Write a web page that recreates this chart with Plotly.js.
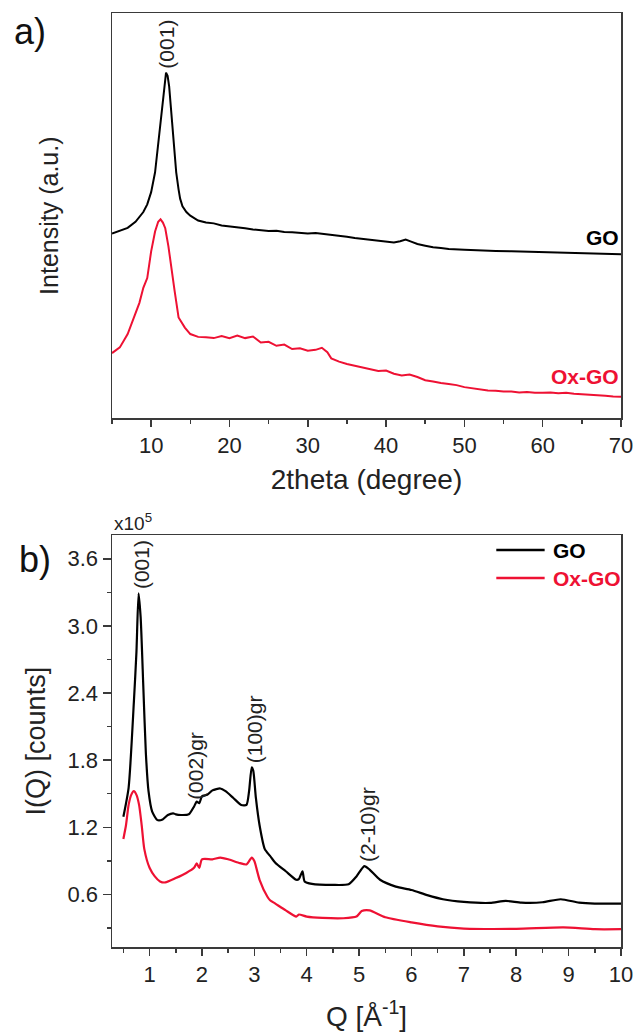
<!DOCTYPE html>
<html>
<head>
<meta charset="utf-8">
<script src="https://cdn.plot.ly/plotly-3.0.1.min.js"></script>
<style>body{margin:0;padding:0;background:#fff;}#chart{width:635px;height:1032px;}</style>
</head>
<body>
<div id="chart"></div>
<script>
// ---- Panel a) XRD ----
const xrdGO_x = [5,6,7,8,9,9.5,10,10.5,11,11.3,11.6,11.9,12.1,12.3,12.5,12.7,13,13.2,13.5,13.7,14,14.5,15,15.5,16,17,18,19,20,21,22,23,24,25,26,27,28,29,30,31,32,33,34,35,36,37,38,39,40,41,41.8,42.5,43.2,44,45,46,47,48,50,52,54,56,58,60,62,64,66,68,70];
const xrdGO_y = [45.6,46.3,47.0,48.5,50.9,52.8,55.8,60.7,68.9,74.5,80.0,85.3,84.5,81.9,77.5,72.1,64.5,60.7,56.5,54.2,52.3,50.9,50.0,49.3,48.8,48.3,48.1,47.6,47.4,47.1,46.9,46.6,46.4,46.2,46.3,46.0,45.9,45.7,45.6,45.7,45.5,45.2,45.0,44.8,44.5,44.3,44.0,43.8,43.6,43.4,43.7,44.1,43.6,43.0,42.6,42.2,42.0,41.8,41.6,41.4,41.3,41.2,41.1,41.0,41.0,40.9,40.8,40.7,40.5];
const xrdOx_x = [5,6,7,8,8.5,9,9.5,10,10.5,10.9,11.2,11.5,11.8,12.2,12.5,13,13.5,14,14.3,15,16,17,18,19,20,21,22,23,24,25,26,27,28,29,30,31,31.8,32.5,33,34,35,36,37,38,39,40,41,42,43,44,45,46,47,48,49,50,51,52,53,54,55,56,57,58,59,60,61,62,63,64,65,66,67,68,69,70];
const xrdOx_y = [16.1,17.5,20.8,25.7,28.5,32.2,34.6,41.2,46.1,48.5,49.1,48.3,46.9,42.5,37.9,31.4,24.9,23.4,22.4,20.8,20.1,20.0,19.8,20.3,19.8,20.4,19.8,20.2,18.7,18.9,17.9,18.2,17.1,17.3,16.7,16.9,17.4,16.3,14.8,14.0,13.4,13.0,12.6,12.1,11.7,11.8,11.0,10.6,10.8,10.2,9.4,9.1,8.7,8.5,8.2,7.7,7.4,7.1,6.9,6.8,6.6,6.6,6.4,6.5,6.3,6.3,6.4,6.2,6.3,6.1,6.0,5.9,5.7,5.6,5.4,5.3];

// ---- Panel b) I(Q), units x10^5 ----
const iqGO_x = [0.5,0.6,0.7,0.75,0.79,0.83,0.88,0.93,0.98,1.05,1.15,1.25,1.35,1.45,1.5,1.6,1.75,1.85,1.9,1.95,2.0,2.1,2.2,2.35,2.45,2.6,2.75,2.85,2.9,2.95,2.98,3.03,3.1,3.2,3.3,3.4,3.6,3.8,3.85,3.92,3.96,4.1,4.5,4.8,4.95,5.1,5.2,5.4,5.7,6.0,6.3,6.6,7.0,7.5,7.8,8.1,8.5,8.85,9.2,9.5,10];
const iqGO_y = [1.294,1.553,2.315,2.77,3.29,3.076,2.467,1.858,1.523,1.34,1.264,1.27,1.31,1.325,1.316,1.31,1.316,1.386,1.43,1.416,1.477,1.49,1.53,1.547,1.523,1.462,1.40,1.40,1.523,1.736,1.705,1.462,1.218,1.005,0.944,0.883,0.807,0.731,0.737,0.807,0.716,0.694,0.685,0.691,0.761,0.853,0.822,0.731,0.67,0.64,0.594,0.557,0.533,0.524,0.542,0.527,0.53,0.557,0.527,0.518,0.518];
const iqOx_x = [0.5,0.55,0.6,0.65,0.7,0.75,0.8,0.85,0.9,1.0,1.1,1.2,1.3,1.5,1.7,1.85,1.9,1.95,2.0,2.2,2.35,2.5,2.7,2.85,2.95,3.0,3.1,3.25,3.3,3.4,3.6,3.8,3.85,4.0,4.3,4.7,4.95,5.05,5.2,5.5,6.0,6.5,7.0,8.0,8.9,9.5,10];
const iqOx_y = [1.096,1.218,1.40,1.49,1.523,1.49,1.40,1.218,1.005,0.838,0.761,0.716,0.707,0.746,0.792,0.838,0.877,0.838,0.914,0.914,0.929,0.914,0.883,0.868,0.929,0.898,0.731,0.579,0.548,0.518,0.457,0.402,0.42,0.402,0.39,0.387,0.402,0.451,0.457,0.396,0.35,0.314,0.295,0.292,0.305,0.289,0.289];

const seriesNames = ['GO', 'Ox-GO'];
const RED = '#ee1133';
const AX = '#3a3a3a';
const FONT = 'Liberation Sans, Arial, sans-serif';

const traces = [
  {x: xrdGO_x, y: xrdGO_y, xaxis: 'x', yaxis: 'y', mode: 'lines', line: {color: '#000', width: 2}, name: seriesNames[0], showlegend: false},
  {x: xrdOx_x, y: xrdOx_y, xaxis: 'x', yaxis: 'y', mode: 'lines', line: {color: RED, width: 2}, name: seriesNames[1], showlegend: false},
  {x: iqGO_x, y: iqGO_y, xaxis: 'x2', yaxis: 'y2', mode: 'lines', line: {color: '#000', width: 2.2, shape: 'spline', smoothing: 0.6},
   name: seriesNames[0], showlegend: false},
  {x: iqOx_x, y: iqOx_y, xaxis: 'x2', yaxis: 'y2', mode: 'lines', line: {color: RED, width: 2.2, shape: 'spline', smoothing: 0.6},
   name: seriesNames[1], showlegend: false}
];

const axBase = {showline: true, linecolor: AX, linewidth: 1.5, mirror: true, zeroline: false, showgrid: false,
  tickfont: {family: FONT, size: 22, color: '#222'}};

// legend drawn as paper-positioned key (line sample + label) inside panel b
const legY = [0.425, 0.395];
const legShapes = [
  {type: 'line', xref: 'paper', yref: 'paper', x0: 0.755, x1: 0.85, y0: legY[0], y1: legY[0], line: {color: '#000', width: 2.5}},
  {type: 'line', xref: 'paper', yref: 'paper', x0: 0.755, x1: 0.85, y0: legY[1], y1: legY[1], line: {color: RED, width: 2.5}}
];

const layout = {
  width: 635, height: 1032,
  margin: {l: 112, r: 14, t: 13, b: 85},
  paper_bgcolor: '#fff', plot_bgcolor: '#fff',
  font: {family: FONT, color: '#222'},
  showlegend: false,
  shapes: legShapes,
  xaxis: Object.assign({}, axBase, {domain: [0, 1], anchor: 'y', range: [5, 70], tickmode: 'array',
    tickvals: [10,20,30,40,50,60,70], ticks: 'outside', ticklen: 7, tickwidth: 1.5, tickcolor: AX,
    minor: {tickvals: [5,15,25,35,45,55,65], ticks: 'outside', ticklen: 4, tickcolor: AX},
    title: {text: '2theta (degree)', font: {family: FONT, size: 28, color: '#222'}, standoff: 12}}),
  yaxis: Object.assign({}, axBase, {domain: [0.566, 1], anchor: 'x', range: [0, 100], showticklabels: false, ticks: '',
    title: {text: 'Intensity (a.u.)', font: {family: FONT, size: 25, color: '#222'}, standoff: 44}}),
  xaxis2: Object.assign({}, axBase, {domain: [0, 1], anchor: 'y2', range: [0.283, 10], tickmode: 'array',
    tickvals: [1,2,3,4,5,6,7,8,9,10], ticks: 'outside', ticklen: 7, tickwidth: 1.5, tickcolor: AX,
    minor: {tickvals: [0.5,1.5,2.5,3.5,4.5,5.5,6.5,7.5,8.5,9.5], ticks: 'outside', ticklen: 4, tickcolor: AX},
    title: {text: 'Q [Å<sup>-1</sup>]', font: {family: FONT, size: 28, color: '#222'}, standoff: 20}}),
  yaxis2: Object.assign({}, axBase, {domain: [0, 0.4408], anchor: 'x2', range: [0.13, 3.81], tickmode: 'array',
    tickvals: [0.6,1.2,1.8,2.4,3.0,3.6], ticktext: ['0.6','1.2','1.8','2.4','3.0','3.6'],
    ticks: 'outside', ticklen: 8, tickwidth: 1.5, tickcolor: AX,
    minor: {tickvals: [0.3,0.9,1.5,2.1,2.7,3.3], ticks: 'outside', ticklen: 4, tickcolor: AX},
    title: {text: 'I(Q) [counts]', font: {family: FONT, size: 27, color: '#222'}, standoff: 14}}),
  annotations: [
    {xref: 'paper', yref: 'paper', x: -0.161, y: 0.98, xanchor: 'center', yanchor: 'middle', text: 'a)', showarrow: false, font: {family: FONT, size: 36, color: '#111'}},
    {xref: 'paper', yref: 'paper', x: -0.151, y: 0.415, xanchor: 'center', yanchor: 'middle', text: 'b)', showarrow: false, font: {family: FONT, size: 36, color: '#111'}},
    {xref: 'paper', yref: 'paper', x: 0.041, y: 0.455, xanchor: 'center', yanchor: 'middle', text: 'x10<sup>5</sup>', showarrow: false, font: {family: FONT, size: 19, color: '#222'}},
    {xref: 'paper', yref: 'paper', x: 0.862, y: legY[0], xanchor: 'left', yanchor: 'middle', text: '<b>' + seriesNames[0] + '</b>', showarrow: false, font: {family: FONT, size: 21, color: '#000'}},
    {xref: 'paper', yref: 'paper', x: 0.862, y: legY[1], xanchor: 'left', yanchor: 'middle', text: '<b>' + seriesNames[1] + '</b>', showarrow: false, font: {family: FONT, size: 21, color: RED}},
    {xref: 'x', yref: 'y', x: 12.0, y: 92.4, text: '(001)', textangle: -90, showarrow: false, font: {family: FONT, size: 21, color: '#222'}},
    {xref: 'x', yref: 'y', x: 70, xanchor: 'right', y: 44.5, text: '<b>' + seriesNames[0] + '</b>', showarrow: false, font: {family: FONT, size: 21, color: '#000'}},
    {xref: 'x', yref: 'y', x: 70, xanchor: 'right', y: 10.3, text: '<b>' + seriesNames[1] + '</b>', showarrow: false, font: {family: FONT, size: 21, color: RED}},
    {xref: 'x2', yref: 'y2', x: 0.85, y: 3.55, text: '(001)', textangle: -90, showarrow: false, font: {family: FONT, size: 21, color: '#222'}},
    {xref: 'x2', yref: 'y2', x: 1.874, y: 1.752, text: '(002)gr', textangle: -90, showarrow: false, font: {family: FONT, size: 21, color: '#222'}},
    {xref: 'x2', yref: 'y2', x: 2.996, y: 2.077, text: '(100)gr', textangle: -90, showarrow: false, font: {family: FONT, size: 21, color: '#222'}},
    {xref: 'x2', yref: 'y2', x: 5.17, y: 1.23, text: '(2-10)gr', textangle: -90, showarrow: false, font: {family: FONT, size: 21, color: '#222'}}
  ]
};

Plotly.newPlot('chart', traces, layout, {staticPlot: true, displayModeBar: false});
</script>
</body>
</html>
